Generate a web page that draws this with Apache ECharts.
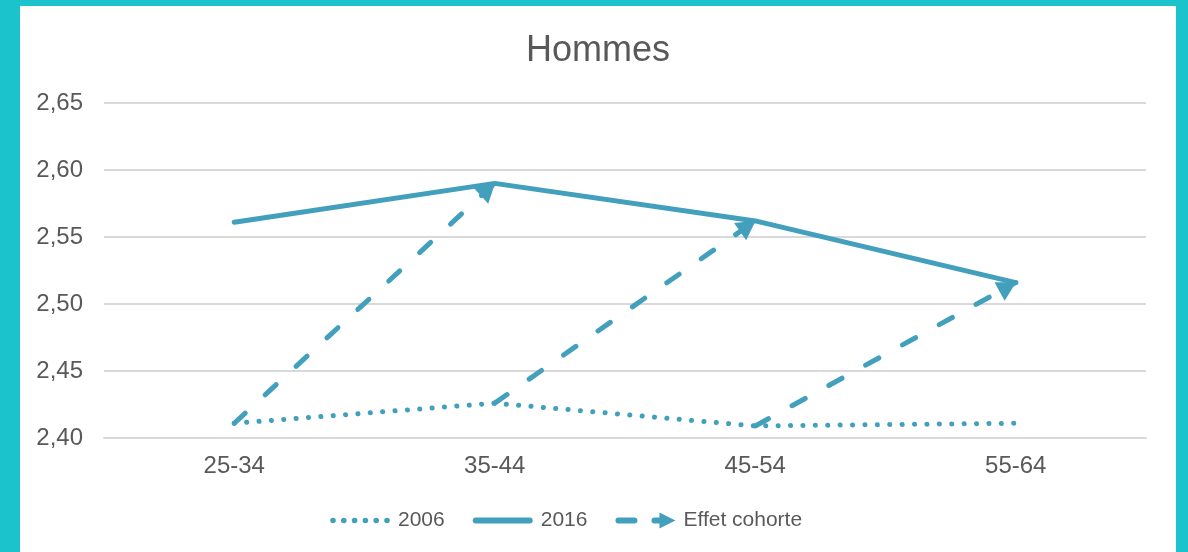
<!DOCTYPE html>
<html>
<head>
<meta charset="utf-8">
<script src="https://cdn.jsdelivr.net/npm/echarts@6/dist/echarts.min.js"></script>
<style>
  html, body { margin: 0; padding: 0; background: #1bc3cc; }
  #frame { position: relative; width: 1188px; height: 552px; background: #1bc3cc; overflow: hidden; }
  #main { position: absolute; left: 20px; top: 6px; width: 1156px; height: 546px; background: #fff; }
</style>
</head>
<body>
<div id="frame"><div id="main"></div></div>
<script>
var ageGroups = ['25-34', '35-44', '45-54', '55-64'];
var values2006 = [2.411, 2.426, 2.409, 2.411];
var values2016 = [2.561, 2.590, 2.562, 2.516];
var yTicks = [2.40, 2.45, 2.50, 2.55, 2.60, 2.65];

var lineColor = '#42a0bc';
var textColor = '#595959';
var font = 'Liberation Sans, Arial, sans-serif';

// cohort arrows: 2006 value of one age group -> 2016 value of the next
var cohortLines = [];
for (var i = 0; i < ageGroups.length - 1; i++) {
  cohortLines.push([
    { coord: [ageGroups[i], values2006[i]], symbol: 'none' },
    { coord: [ageGroups[i + 1], values2016[i + 1]], symbol: 'triangle',
      symbolSize: [21, 19], symbolOffset: [0, 9] }
  ]);
}

var iconDots = 'path://M0,0M60,16M0.2,8a2.8,2.8 0 1,0 5.6,0a2.8,2.8 0 1,0 -5.6,0' +
  'M11,8a2.8,2.8 0 1,0 5.6,0a2.8,2.8 0 1,0 -5.6,0' +
  'M21.8,8a2.8,2.8 0 1,0 5.6,0a2.8,2.8 0 1,0 -5.6,0' +
  'M32.6,8a2.8,2.8 0 1,0 5.6,0a2.8,2.8 0 1,0 -5.6,0' +
  'M43.4,8a2.8,2.8 0 1,0 5.6,0a2.8,2.8 0 1,0 -5.6,0' +
  'M54.2,8a2.8,2.8 0 1,0 5.6,0a2.8,2.8 0 1,0 -5.6,0';
var iconSolid = 'path://M0,0M60,16M3,5L57,5A3,3 0 0 1 57,11L3,11A3,3 0 0 1 3,5Z';
var iconArrow = 'path://M0,0M60,16M3,5L19,5A3,3 0 0 1 19,11L3,11A3,3 0 0 1 3,5Z' +
  'M39,5L45,5L45,11L39,11A3,3 0 0 1 39,5Z M44,0L60,8L44,16Z';

var myChart = echarts.init(document.getElementById('main'));
var option = {
  backgroundColor: '#fff',
  animation: false,
  title: {
    text: 'Hommes',
    left: 'center',
    top: 22,
    textStyle: { color: textColor, fontSize: 36, fontWeight: 'normal', fontFamily: font }
  },
  grid: { left: 84, right: 30, top: 97, bottom: 114 },
  legend: {
    left: 305,
    top: 499,
    itemWidth: 60,
    itemHeight: 16,
    itemGap: 28,
    textStyle: { color: textColor, fontSize: 21, fontFamily: font, padding: [0, 0, 0, 3] },
    data: [
      { name: '2006', icon: iconDots },
      { name: '2016', icon: iconSolid },
      { name: 'Effet cohorte', icon: iconArrow }
    ]
  },
  xAxis: {
    type: 'category',
    data: ageGroups,
    boundaryGap: true,
    axisLine: { lineStyle: { color: '#d9d9d9', width: 2 } },
    axisTick: { show: false },
    axisLabel: { color: textColor, fontSize: 24, fontFamily: font, margin: 16 }
  },
  yAxis: {
    type: 'value',
    min: yTicks[0],
    max: yTicks[yTicks.length - 1],
    interval: 0.05,
    axisLine: { show: false },
    axisTick: { show: false },
    splitLine: { lineStyle: { color: '#d9d9d9', width: 2 } },
    axisLabel: {
      color: textColor, fontSize: 24, fontFamily: font, margin: 21,
      formatter: function (v) { return v.toFixed(2).replace('.', ','); }
    }
  },
  series: [
    {
      name: '2006',
      type: 'line',
      data: values2006,
      symbol: 'none',
      itemStyle: { color: lineColor },
      lineStyle: { color: lineColor, width: 5, type: [0.1, 12.3], cap: 'round' }
    },
    {
      name: '2016',
      type: 'line',
      data: values2016,
      symbol: 'none',
      itemStyle: { color: lineColor },
      lineStyle: { color: lineColor, width: 5, cap: 'round', join: 'round' }
    },
    {
      name: 'Effet cohorte',
      type: 'line',
      data: [],
      symbol: 'none',
      itemStyle: { color: lineColor },
      lineStyle: { color: lineColor, width: 5 },
      markLine: {
        silent: true,
        animation: false,
        symbol: ['none', 'triangle'],
        symbolSize: 18,
        label: { show: false },
        emphasis: { disabled: true },
        itemStyle: { color: lineColor },
        lineStyle: { color: lineColor, width: 5, type: [15, 27], cap: 'round' },
        data: cohortLines
      }
    }
  ]
};
myChart.setOption(option);
</script>
</body>
</html>
